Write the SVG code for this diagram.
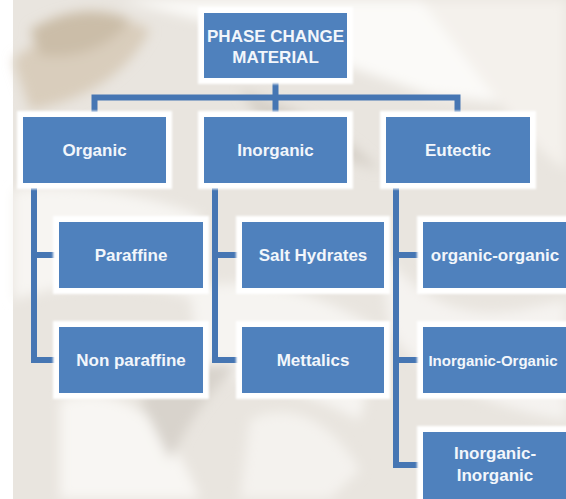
<svg xmlns="http://www.w3.org/2000/svg" width="566" height="499" viewBox="0 0 566 499">
  <defs>
    <filter id="soft" x="-20%" y="-20%" width="140%" height="140%">
      <feGaussianBlur stdDeviation="6"/>
    </filter>
    <filter id="halo" x="-10%" y="-10%" width="120%" height="120%">
      <feGaussianBlur stdDeviation="1.2"/>
    </filter>
    <style>
      .box { fill: #4f81bd; }
      .ring { fill: #ffffff; filter: url(#halo); }
      .lbl { font-family: "Liberation Sans", Arial, sans-serif; font-weight: bold; font-size: 17px; fill: #f2f6fb; text-anchor: middle; }
      .lbl.tight { font-size: 15px; }
      .wire { fill: none; stroke: #4676b3; stroke-width: 6; stroke-linejoin: miter; stroke-linecap: butt; }
    </style>
  </defs>

  <!-- backdrop: pale photo wash with soft petals -->
  <rect x="0" y="0" width="566" height="499" fill="#ffffff"/>
  <g id="backdrop">
    <rect x="13" y="0" width="553" height="499" fill="#e9e5df"/>
    <g filter="url(#soft)">
      <path d="M120 0 L566 0 L566 110 L430 95 L330 60 L200 20 Z" fill="#fbfaf8"/>
      <path d="M420 0 C470 60 520 140 566 170 L566 0 Z" fill="#f4f1ec"/>
      <path d="M13 60 C60 20 120 10 150 30 C130 70 90 100 30 110 Z" fill="#d9cdbc"/>
      <path d="M30 30 C60 10 100 5 130 20 C110 50 70 60 40 55 Z" fill="#cbbda8"/>
      <path d="M13 190 C80 180 160 200 200 215 L200 300 C140 280 70 280 13 300 Z" fill="#f7f5f2"/>
      <path d="M190 290 C260 270 330 300 380 330 L360 420 C300 390 240 370 200 380 Z" fill="#f6f4f1"/>
      <path d="M60 400 C120 380 170 420 200 499 L60 499 Z" fill="#f8f6f3"/>
      <path d="M250 420 C290 400 330 420 360 470 L330 499 L240 499 Z" fill="#f4f2ee"/>
      <path d="M380 250 C420 300 460 320 520 310 L566 300 L566 420 C500 410 420 380 390 330 Z" fill="#f5f3f0"/>
      <path d="M140 400 C170 370 200 360 240 365 C210 390 190 420 170 460 Z" fill="#d8d3cc"/>
      <path d="M240 90 C300 110 340 130 380 170 C340 160 300 140 260 120 Z" fill="#d6d0c8"/>
    </g>
  </g>

  <!-- connectors -->
  <g id="connectors">
    <path class="wire" d="M94.5 112 V97.5 H457.5 V112"/>
    <path class="wire" d="M275.5 82 V112"/>
    <path class="wire" d="M34 188 V360 H56"/>
    <path class="wire" d="M34 255 H56"/>
    <path class="wire" d="M215 188 V360 H238"/>
    <path class="wire" d="M215 255 H238"/>
    <path class="wire" d="M396 188 V465 H419"/>
    <path class="wire" d="M396 255 H419"/>
    <path class="wire" d="M396 360 H419"/>
  </g>

  <!-- root -->
  <g id="phase-change-material">
    <rect class="ring" x="198" y="7" width="155" height="77"/>
    <rect class="box" x="204" y="13" width="143" height="65"/>
    <text class="lbl" x="275.5" y="42">PHASE CHANGE</text>
    <text class="lbl" x="275.5" y="63">MATERIAL</text>
  </g>

  <!-- categories -->
  <g id="organic">
    <rect class="ring" x="17" y="111" width="155" height="78"/>
    <rect class="box" x="23" y="117" width="143" height="66"/>
    <text class="lbl" x="94.5" y="156">Organic</text>
  </g>
  <g id="inorganic">
    <rect class="ring" x="198" y="111" width="155" height="78"/>
    <rect class="box" x="204" y="117" width="143" height="66"/>
    <text class="lbl" x="275.5" y="156">Inorganic</text>
  </g>
  <g id="eutectic">
    <rect class="ring" x="380" y="111" width="156" height="78"/>
    <rect class="box" x="386" y="117" width="144" height="66"/>
    <text class="lbl" x="458" y="156">Eutectic</text>
  </g>

  <!-- organic members -->
  <g id="paraffine">
    <rect class="ring" x="53" y="216" width="156" height="78"/>
    <rect class="box" x="59" y="222" width="144" height="66"/>
    <text class="lbl" x="131" y="261">Paraffine</text>
  </g>
  <g id="non-paraffine">
    <rect class="ring" x="53" y="321" width="156" height="78"/>
    <rect class="box" x="59" y="327" width="144" height="66"/>
    <text class="lbl" x="131" y="366">Non paraffine</text>
  </g>

  <!-- inorganic members -->
  <g id="salt-hydrates">
    <rect class="ring" x="236" y="216" width="154" height="78"/>
    <rect class="box" x="242" y="222" width="142" height="66"/>
    <text class="lbl" x="313" y="261">Salt Hydrates</text>
  </g>
  <g id="mettalics">
    <rect class="ring" x="236" y="321" width="154" height="78"/>
    <rect class="box" x="242" y="327" width="142" height="66"/>
    <text class="lbl" x="313" y="366">Mettalics</text>
  </g>

  <!-- eutectic members -->
  <g id="organic-organic">
    <rect class="ring" x="417" y="216" width="156" height="78"/>
    <rect class="box" x="423" y="222" width="144" height="66"/>
    <text class="lbl" x="495" y="261">organic-organic</text>
  </g>
  <g id="inorganic-organic">
    <rect class="ring" x="417" y="321" width="156" height="78"/>
    <rect class="box" x="423" y="327" width="144" height="66"/>
    <text class="lbl tight" x="493" y="365.5">Inorganic-Organic</text>
  </g>
  <g id="inorganic-inorganic">
    <rect class="ring" x="417" y="426" width="156" height="78"/>
    <rect class="box" x="423" y="432" width="144" height="67"/>
    <text class="lbl" x="495" y="459">Inorganic-</text>
    <text class="lbl" x="495" y="481">Inorganic</text>
  </g>
</svg>
